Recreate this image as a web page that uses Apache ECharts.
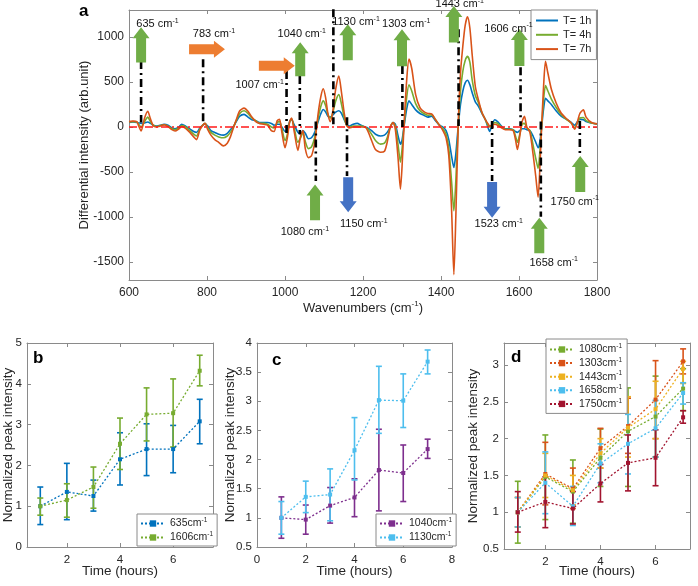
<!DOCTYPE html>
<html><head><meta charset="utf-8">
<script src="https://cdn.jsdelivr.net/npm/echarts@6/dist/echarts.min.js"></script>
<style>html,body{margin:0;padding:0;background:#fff}#c{width:698px;height:586px}</style>
</head><body><div id="c"></div>
<script>
// ---------------- Panel a data ----------------
const wavenumbers = [600,610,620,625,631,640,648,655,662,670,680,690,700,710,718,728,735,745,756,766,773,782,795,802,810,820,830,842,852,860,867,875,884,895,905,915,925,935,945,955,965,972,980,986,992,1000,1006,1012,1017,1024,1033,1040,1046,1052,1060,1068,1077,1085,1092,1098,1104,1110,1116,1122,1130,1138,1145,1152,1158,1165,1175,1185,1195,1205,1212,1222,1232,1245,1255,1262,1270,1277,1283,1290,1296,1300,1305,1312,1318,1325,1335,1346,1356,1366,1376,1386,1396,1405,1413,1420,1427,1433,1438,1444,1450,1456,1462,1468,1474,1480,1488,1496,1505,1514,1520,1525,1531,1538,1545,1555,1565,1575,1585,1591,1596,1602,1608,1614,1620,1628,1636,1643,1649,1654,1658,1663,1668,1674,1683,1695,1708,1720,1734,1743,1750,1756,1765,1772,1786,1800];
const t1h = [50,55,50,45,40,45,55,40,20,10,20,30,20,-10,-20,0,30,10,-20,-50,-60,-10,35,10,-40,-60,-80,-90,-70,-30,0,60,120,140,110,80,70,50,50,50,40,20,30,30,0,-50,-20,60,80,20,-60,-80,-40,-70,-130,-120,-50,60,150,195,170,120,110,130,165,180,150,80,30,10,30,40,20,0,-10,-40,-80,-100,-90,-60,0,50,30,-100,-190,-150,0,200,290,250,190,150,130,110,120,70,20,0,-40,-140,-320,-450,-300,0,250,400,490,520,470,380,280,230,150,80,0,-50,30,80,60,10,-20,-20,-30,-50,-60,-40,-20,-20,-30,-40,-100,-170,-230,-150,0,200,320,290,250,180,120,90,50,20,60,85,80,60,45,30];
const t4h = [55,60,55,30,0,60,110,60,20,5,15,25,10,-20,-30,-10,15,0,-40,-80,-100,-20,40,-10,-60,-90,-110,-120,-100,-60,-10,70,150,180,150,100,70,40,40,30,0,-10,50,60,-20,-150,-80,60,90,-20,-170,-120,-60,-160,-240,-220,-100,100,230,290,240,140,100,150,290,360,250,100,20,0,10,10,10,0,-20,-80,-150,-190,-180,-120,0,50,10,-200,-390,-250,0,330,470,400,260,180,150,130,135,80,20,-20,-80,-240,-600,-930,-600,0,400,620,740,785,720,520,350,270,160,80,20,0,20,50,40,0,-25,-25,-30,-100,-170,-80,30,40,-10,-40,-200,-350,-460,-250,0,300,460,400,310,220,140,90,45,-10,50,100,105,70,45,35];
const t7h = [60,65,60,10,-45,100,175,90,15,0,10,25,5,-30,-45,-20,5,-15,-60,-110,-140,-30,40,-30,-90,-140,-170,-210,-180,-110,-20,80,180,210,175,110,60,40,30,20,-40,-50,70,85,-60,-230,-120,60,100,-60,-260,-100,-40,-240,-340,-320,-150,150,340,425,330,150,60,160,420,565,380,150,20,-10,0,0,0,0,-40,-150,-250,-280,-270,-170,0,50,-30,-350,-690,-450,0,520,755,650,360,215,170,150,145,80,20,-40,-120,-320,-900,-1640,-1000,0,600,900,1130,1225,1100,800,450,300,160,80,40,10,20,30,20,-10,-30,-30,-40,-140,-250,-100,60,120,0,-60,-300,-550,-780,-400,0,450,730,600,420,270,155,100,45,-25,60,150,190,110,50,35];
const seriesNamesA = ['T= 1h','T= 4h','T= 7h'];

// Peak annotations (labels in cm-1)
const annoLabels      = ['635','783','1007','1040','1080','1130','1150','1303','1443','1523','1606','1658','1750'];
const annoLineX       = [631,790,1004,1038,1079,1124,1159,1301,1445,1531,1604,1656,1756];
const annoLineTop     = [733,752,622,567,60,1308,108,678,1086,67,663,60,67];
const annoLineBottom  = [50,60,-100,-80,-600,30,-544,0,10,-600,10,-996,-303];
const arrowKind       = ['up','right','right','up','up','up','down','up','up','down','up','up','up'];
const arrowX0         = [631,754,933,1039,1077,1161,1162,1300,1433,1531,1601,1652,1757];
const arrowY0         = [718,863,680,563,-1037,741,-559,674,938,-611,678,-1403,-722];
const arrowX1         = [631,846,1025,1039,1077,1161,1162,1300,1433,1531,1601,1652,1757];
const arrowY1         = [1108,863,680,941,-639,1141,-948,1086,1344,-1007,1090,-1007,-322];
const labelX          = [673,818,935,1043,1051,1182,1202,1311,1448,1548,1573,1689,1743];
const labelY          = [1141,1030,463,1030,-1170,1163,-1081,1141,1363,-1081,1093,-1507,-833];

// ---------------- Panels b-d data ----------------
const hours = [1,2,3,4,5,6,7];
// b
const b635    = [1.0,1.35,1.25,2.15,2.40,2.40,3.08];
const b635Lo  = [0.55,0.67,0.88,1.52,1.75,1.82,2.53];
const b635Hi  = [1.47,2.05,1.64,2.80,3.02,2.98,3.62];
const b1606   = [1.0,1.15,1.47,2.53,3.25,3.28,4.32];
const b1606Lo = [0.78,0.73,0.95,1.90,2.60,2.45,3.95];
const b1606Hi = [1.20,1.55,1.96,3.16,3.90,4.12,4.70];
// c
const c1040   = [1.0,0.97,1.21,1.35,1.82,1.77,2.18];
const c1040Lo = [0.65,0.72,0.91,1.02,1.12,1.28,2.02];
const c1040Hi = [1.36,1.22,1.52,1.67,2.52,2.25,2.35];
const c1130   = [1.0,1.36,1.40,2.16,3.02,3.01,3.68];
const c1130Lo = [0.72,1.09,0.95,1.65,2.45,2.55,3.47];
const c1130Hi = [1.28,1.63,1.84,2.72,3.60,3.47,3.88];
// d
const d1080   = [1.0,1.48,1.28,1.74,2.10,2.30,2.68];
const d1080Lo = [0.58,0.90,0.85,1.35,1.35,1.75,2.38];
const d1080Hi = [1.42,2.05,1.71,2.13,2.69,2.85,2.95];
const d1303   = [1.0,1.52,1.32,1.87,2.17,2.53,3.05];
const d1303Lo = [0.80,1.10,1.05,1.60,1.80,2.00,2.88];
const d1303Hi = [1.20,1.95,1.60,2.14,2.55,3.06,3.22];
const d1443   = [1.0,1.50,1.30,1.80,2.15,2.40,2.95];
const d1443Lo = [0.80,1.20,1.10,1.60,1.75,2.00,2.75];
const d1443Hi = [1.20,1.80,1.50,2.00,2.57,2.78,3.05];
const d1658   = [1.0,1.40,1.08,1.66,1.93,2.14,2.62];
const d1658Lo = [0.80,0.98,0.82,1.40,1.52,1.75,2.47];
const d1658Hi = [1.20,1.82,1.35,1.93,2.33,2.52,2.76];
const d1750   = [1.0,1.14,1.05,1.39,1.67,1.74,2.29];
const d1750Lo = [0.73,0.79,0.84,1.14,1.29,1.36,2.21];
const d1750Hi = [1.28,1.48,1.28,1.65,2.05,2.12,2.38];

// ---------------- Build chart ----------------
const FONT = '"Liberation Sans", Arial, Helvetica, sans-serif';
const AXC = '#8a8a8a', TXC = '#262626';
const chart = echarts.init(document.getElementById('c'), null, {renderer:'canvas'});

const grids = [
  {left:129, top:10, width:468, height:270},
  {left:26, top:343, width:187, height:204},
  {left:257, top:343, width:195, height:204},
  {left:504, top:343, width:186, height:206}
];
const xCfg = [
  {min:600, max:1800, ticks:[600,800,1000,1200,1400,1600,1800], fs:12},
  {min:0.5, max:7.5, ticks:[2,4,6], fs:11.5},
  {min:0, max:8, ticks:[0,2,4,6,8], fs:11.5},
  {min:0.5, max:7.25, ticks:[2,4,6], fs:11.5}
];
const yCfg = [
  {min:-1700, max:1300, ticks:[-1500,-1000,-500,0,500,1000], fs:12},
  {min:0, max:5, ticks:[0,1,2,3,4,5], fs:11.5},
  {min:0.5, max:4, ticks:[0.5,1,1.5,2,2.5,3,3.5,4], fs:11.5},
  {min:0.5, max:3.3, ticks:[0.5,1,1.5,2,2.5,3], fs:11.5}
];
const supRich = (fs) => ({
  n:{fontSize:fs, fontFamily:FONT, color:TXC, lineHeight:fs+4},
  s:{fontSize:Math.round(fs*0.6), fontFamily:FONT, color:TXC, verticalAlign:'top', lineHeight:Math.round(fs*0.6)+1}
});
const xNames = [
  {name:'{n|Wavenumbers (cm}{s|-1}{n|)}', gap:20, fs:13},
  {name:'{n|Time (hours)}', gap:16, fs:13.5},
  {name:'{n|Time (hours)}', gap:16, fs:13.5},
  {name:'{n|Time (hours)}', gap:14, fs:13.5}
];
const yNames = [
  {name:'Differential intensity (arb.unit)', gap:38, fs:13},
  {name:'Normalized peak intensity', gap:12, fs:13.5},
  {name:'Normalized peak intensity', gap:20, fs:13.5},
  {name:'Normalized peak intensity', gap:24, fs:13.5}
];
const fmt = v => String(v);

const xAxis = [], yAxis = [];
function baseAxis(){
  return {
    axisLine:{show:true, onZero:false, lineStyle:{color:AXC, width:1}},
    splitLine:{show:false}
  };
}
for (let i=0;i<4;i++){
  const xc = xCfg[i], yc = yCfg[i];
  xAxis.push(Object.assign(baseAxis(), {
    type:'value', gridIndex:i, min:xc.min, max:xc.max, position:'bottom',
    axisTick:{show:true, inside:true, length:4, lineStyle:{color:AXC}, customValues:xc.ticks},
    axisLabel:{color:TXC, fontSize:xc.fs, fontFamily:FONT, margin:7, customValues:xc.ticks, formatter:fmt},
    name:xNames[i].name, nameLocation:'middle', nameGap:xNames[i].gap, nameMoveOverlap:false,
    nameTextStyle:{rich:supRich(xNames[i].fs)}
  }));
  yAxis.push(Object.assign(baseAxis(), {
    type:'value', gridIndex:i, min:yc.min, max:yc.max, position:'left',
    axisTick:{show:true, inside:true, length:4, lineStyle:{color:AXC}, customValues:yc.ticks},
    axisLabel:{color:TXC, fontSize:yc.fs, fontFamily:FONT, margin:5, customValues:yc.ticks, formatter:fmt},
    name:yNames[i].name, nameLocation:'middle', nameGap:yNames[i].gap, nameMoveOverlap:false,
    nameTextStyle:{fontSize:yNames[i].fs, fontFamily:FONT, color:TXC}
  }));
}
for (let i=0;i<4;i++){
  const xc = xCfg[i], yc = yCfg[i];
  xAxis.push(Object.assign(baseAxis(), {
    type:'value', gridIndex:i, min:xc.min, max:xc.max, position:'top',
    axisTick:{show:true, inside:true, length:4, lineStyle:{color:AXC}, customValues:xc.ticks},
    axisLabel:{show:false}
  }));
  yAxis.push(Object.assign(baseAxis(), {
    type:'value', gridIndex:i, min:yc.min, max:yc.max, position:'right',
    axisTick:{show:true, inside:true, length:4, lineStyle:{color:AXC}, customValues:yc.ticks},
    axisLabel:{show:false}
  }));
}

const series = [];
// Panel a spectra
const colorsA = ['#0072bd','#77ac30','#d95319'];
[t1h,t4h,t7h].forEach((arr,k)=>{
  series.push({
    type:'line', name:seriesNamesA[k], xAxisIndex:0, yAxisIndex:0,
    data:wavenumbers.map((w,i)=>[w,arr[i]]), symbol:'none', smooth:0.25,
    lineStyle:{color:colorsA[k], width:1.6}, itemStyle:{color:colorsA[k]}, z:3
  });
});
// zero line
series.push({
  type:'line', name:'zero', xAxisIndex:0, yAxisIndex:0, symbol:'none',
  data:[[600,0],[1800,0]], lineStyle:{color:'#ff1a1a', width:1.6, type:[8,3,2,3]}, z:4, silent:true
});
// dash-dot annotation lines
series.push({
  type:'custom', name:'annoLines', xAxisIndex:0, yAxisIndex:0, z:5, silent:true, clip:false,
  data:annoLineX.map((x,i)=>[x, annoLineTop[i], annoLineBottom[i]]),
  encode:{x:0, y:[1,2]},
  renderItem:(params, api)=>{
    const p1 = api.coord([api.value(0), api.value(1)]);
    const p2 = api.coord([api.value(0), api.value(2)]);
    return {type:'line', shape:{x1:p1[0], y1:p1[1], x2:p2[0], y2:p2[1]},
      style:{stroke:'#000', lineWidth:2.6, lineDash:[8,4,2,4], fill:null}};
  }
});
// arrows
const arrowColor = {up:'#70ad47', right:'#ed7d31', down:'#4472c4'};
series.push({
  type:'custom', name:'arrows', xAxisIndex:0, yAxisIndex:0, z:6, silent:true, clip:false,
  data:arrowX0.map((x,i)=>[x, arrowY0[i], arrowX1[i], arrowY1[i], i]),
  encode:{x:[0,2], y:[1,3]},
  renderItem:(params, api)=>{
    const p1 = api.coord([api.value(0), api.value(1)]);
    const p2 = api.coord([api.value(2), api.value(3)]);
    const idx = api.value(4);
    const dx = p2[0]-p1[0], dy = p2[1]-p1[1], L = Math.hypot(dx,dy);
    const ux = dx/L, uy = dy/L, nx = -uy, ny = ux;
    const sw = 5, hw = 8.5, hl = 11;
    const bx = p2[0]-ux*hl, by = p2[1]-uy*hl;
    const pts = [
      [p1[0]+nx*sw, p1[1]+ny*sw],[bx+nx*sw, by+ny*sw],[bx+nx*hw, by+ny*hw],
      [p2[0],p2[1]],
      [bx-nx*hw, by-ny*hw],[bx-nx*sw, by-ny*sw],[p1[0]-nx*sw, p1[1]-ny*sw]
    ];
    return {type:'polygon', shape:{points:pts}, style:{fill:arrowColor[arrowKind[idx]]}};
  }
});
// labels
series.push({
  type:'custom', name:'annoText', xAxisIndex:0, yAxisIndex:0, z:7, silent:true, clip:false,
  data:labelX.map((x,i)=>[x, labelY[i], i]),
  encode:{x:0, y:1},
  renderItem:(params, api)=>{
    const p = api.coord([api.value(0), api.value(1)]);
    const idx = api.value(2);
    return {type:'text', x:p[0], y:p[1], style:{
      text:'{n|'+annoLabels[idx]+' cm}{s|-1}', align:'center', verticalAlign:'middle',
      rich:{
        n:{fontSize:11, fontFamily:FONT, fill:'#111', lineHeight:14},
        s:{fontSize:7, fontFamily:FONT, fill:'#111', verticalAlign:'top', lineHeight:8}
      }
    }};
  }
});

// panels b-d
const panels = [
  {g:1, items:[['635','#0072bd',b635,b635Lo,b635Hi],['1606','#77ac30',b1606,b1606Lo,b1606Hi]]},
  {g:2, items:[['1040','#7e2f8e',c1040,c1040Lo,c1040Hi],['1130','#4dbeee',c1130,c1130Lo,c1130Hi]]},
  {g:3, items:[['1080','#77ac30',d1080,d1080Lo,d1080Hi],['1303','#d95319',d1303,d1303Lo,d1303Hi],['1443','#edb120',d1443,d1443Lo,d1443Hi],['1658','#4dbeee',d1658,d1658Lo,d1658Hi],['1750','#a2142f',d1750,d1750Lo,d1750Hi]]}
];
panels.forEach(p=>{
  p.items.forEach(([nm,col,mean,lo,hi])=>{
    series.push({
      type:'custom', name:nm+'-err', xAxisIndex:p.g, yAxisIndex:p.g, z:3, silent:true,
      data:hours.map((h,i)=>[h, lo[i], hi[i]]), encode:{x:0, y:[1,2]},
      renderItem:(params, api)=>{
        const a = api.coord([api.value(0), api.value(1)]);
        const b = api.coord([api.value(0), api.value(2)]);
        const c = 3;
        const st = {stroke:col, lineWidth:1.6, fill:null};
        return {type:'group', children:[
          {type:'line', shape:{x1:a[0],y1:a[1],x2:b[0],y2:b[1]}, style:st},
          {type:'line', shape:{x1:a[0]-c,y1:a[1],x2:a[0]+c,y2:a[1]}, style:st},
          {type:'line', shape:{x1:b[0]-c,y1:b[1],x2:b[0]+c,y2:b[1]}, style:st}
        ]};
      }
    });
    series.push({
      type:'line', name:nm, xAxisIndex:p.g, yAxisIndex:p.g, z:4,
      data:hours.map((h,i)=>[h, mean[i]]), symbol:'rect', symbolSize:4, showSymbol:true,
      lineStyle:{color:col, width:1.3, type:[2,2]}, itemStyle:{color:col}
    });
  });
});

const legRich = {
  n:{fontSize:10.5, fontFamily:FONT, color:TXC, lineHeight:13},
  s:{fontSize:6.5, fontFamily:FONT, color:TXC, verticalAlign:'top', lineHeight:7}
};
const legBase = {
  orient:'vertical', backgroundColor:'#fff', borderColor:'#8a8a8a', borderWidth:1,
  itemWidth:24, itemHeight:8, selectedMode:false, borderRadius:0
};
const legend = [
  Object.assign({}, legBase, {data:seriesNamesA, left:531, top:10, padding:[4,5,4,5], itemGap:1.3,
    icon:'rect', itemWidth:22, itemHeight:2,
    textStyle:{fontSize:11, fontFamily:FONT, color:TXC, lineHeight:13}}),
  Object.assign({}, legBase, {data:['635','1606'], left:137, top:514, padding:[3,4,3,3], itemGap:2,
    formatter:n=>'{n|'+n+'cm}{s|-1}', textStyle:{rich:legRich}}),
  Object.assign({}, legBase, {data:['1040','1130'], left:376, top:514, padding:[3,4,3,3], itemGap:2,
    formatter:n=>'{n|'+n+'cm}{s|-1}', textStyle:{rich:legRich}}),
  Object.assign({}, legBase, {data:['1080','1303','1443','1658','1750'], left:546, top:339, padding:[4,5,4,3], itemGap:1.6,
    formatter:n=>'{n|'+n+'cm}{s|-1}', textStyle:{rich:legRich}})
];

const graphic = [
  {type:'text', left:79, top:3, style:{text:'a', fontSize:17, fontWeight:'bold', fontFamily:FONT, fill:'#000'}},
  {type:'text', left:33, top:350, style:{text:'b', fontSize:17, fontWeight:'bold', fontFamily:FONT, fill:'#000'}},
  {type:'text', left:272, top:352, style:{text:'c', fontSize:17, fontWeight:'bold', fontFamily:FONT, fill:'#000'}},
  {type:'text', left:511, top:349, style:{text:'d', fontSize:17, fontWeight:'bold', fontFamily:FONT, fill:'#000'}}
];

chart.setOption({
  animation:false, backgroundColor:'#fff',
  grid:grids, xAxis, yAxis, series, legend, graphic
});
</script></body></html>
